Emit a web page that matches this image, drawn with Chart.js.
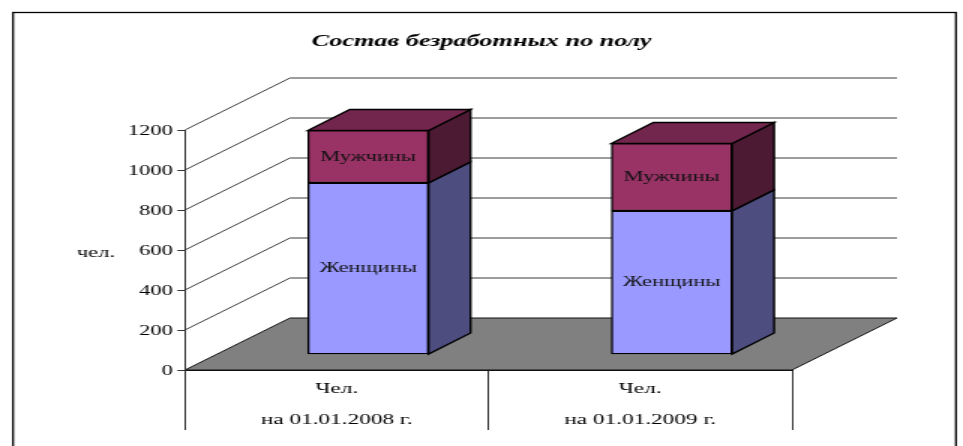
<!DOCTYPE html>
<html lang="ru">
<head>
<meta charset="utf-8">
<title>Состав безработных по полу</title>
<script src="https://cdn.jsdelivr.net/npm/chart.js@4/dist/chart.umd.js"></script>
<style>
  html, body { margin: 0; padding: 0; background: #fff; overflow: hidden; }
</style>
</head>
<body>
<!-- the reference is stretched 1.5x horizontally, text included, so the canvas is too -->
<canvas id="chart" width="642" height="446" style="width:963px;height:446px"></canvas>
<script>
const categories = [['Чел.', 'на 01.01.2008 г.'], ['Чел.', 'на 01.01.2009 г.']];
const women = [858, 718];
const men = [262, 337];
const seriesNames = ['Женщины', 'Мужчины'];
const frontColors = ['#9999FF', '#993366'];
const sideColors = ['#4D4D80', '#4D1A33'];
const topColor = '#73264D';
const yMax = 1200;
const yStep = 200;

const FONT = '"Liberation Serif", "Times New Roman", serif';
const WALL = { dx: 70, dy: 52 };     // depth of the walls and floor
const BAR_SHIFT = { dx: 21, dy: 15.5 }; // bars stand this far back from the front edge
const BAR_DEPTH = { dx: 28, dy: 21 };

function poly(ctx, pts, fill, stroke, lineWidth) {
  ctx.beginPath();
  pts.forEach((p, i) => (i ? ctx.lineTo(p[0], p[1]) : ctx.moveTo(p[0], p[1])));
  ctx.closePath();
  if (fill) { ctx.fillStyle = fill; ctx.fill(); }
  if (stroke) { ctx.strokeStyle = stroke; ctx.lineWidth = lineWidth || 1; ctx.stroke(); }
}

const depthPlugin = {
  id: 'depth',
  afterLayout(chart) {
    // title is centred on the whole picture, not on what the right padding leaves
    chart.titleBlock.left = 0;
    chart.titleBlock.right = chart.width;
  },
  beforeDraw(chart) {
    const { ctx, chartArea: a, scales: { y } } = chart;
    ctx.save();
    // outer frame, open at the bottom
    ctx.strokeStyle = '#000';
    ctx.lineWidth = 1.3;
    ctx.strokeRect(8.7, 12.5, 628.6, 460);

    // walls
    ctx.strokeStyle = '#3a3a3a';
    ctx.lineWidth = 1;
    y.ticks.forEach(t => {
      if (t.value === 0) return;
      const py = y.getPixelForValue(t.value);
      ctx.beginPath();
      ctx.moveTo(a.left, py);
      ctx.lineTo(a.left + WALL.dx, py - WALL.dy);
      ctx.lineTo(a.right + WALL.dx, py - WALL.dy);
      ctx.stroke();
    });

    // floor
    const y0 = y.getPixelForValue(0);
    poly(ctx, [
      [a.left, y0], [a.right, y0],
      [a.right + WALL.dx, y0 - WALL.dy], [a.left + WALL.dx, y0 - WALL.dy]
    ], '#808080', '#111', 1);
    ctx.restore();
  },
  beforeDatasetsDraw(chart) {
    const { ctx } = chart;
    ctx.save();
    ctx.translate(BAR_SHIFT.dx, -BAR_SHIFT.dy);
    const last = chart.data.datasets.length - 1;
    chart.data.datasets.forEach((ds, di) => {
      chart.getDatasetMeta(di).data.forEach(bar => {
        const r = bar.x + bar.width / 2;
        const l = bar.x - bar.width / 2;
        poly(ctx, [
          [r, bar.y], [r + BAR_DEPTH.dx, bar.y - BAR_DEPTH.dy],
          [r + BAR_DEPTH.dx, bar.base - BAR_DEPTH.dy], [r, bar.base]
        ], sideColors[di], '#000', 1.4);
        if (di === last) {
          poly(ctx, [
            [l, bar.y], [l + BAR_DEPTH.dx, bar.y - BAR_DEPTH.dy],
            [r + BAR_DEPTH.dx, bar.y - BAR_DEPTH.dy], [r, bar.y]
          ], topColor, '#000', 1.4);
        }
      });
    });
  },
  afterDatasetsDraw(chart) {
    const { ctx } = chart;
    // series names in the middle of each bar segment, still shifted
    ctx.fillStyle = '#111';
    ctx.font = '15px ' + FONT;
    ctx.textAlign = 'center';
    ctx.textBaseline = 'middle';
    chart.data.datasets.forEach((ds, di) => {
      chart.getDatasetMeta(di).data.forEach(bar => {
        ctx.fillText(ds.label, bar.x, (bar.y + bar.base) / 2);
      });
    });
    ctx.restore();
  },
  afterDraw(chart) {
    const { ctx, scales: { y } } = chart;
    // horizontal axis title, chart.js would rotate it
    ctx.save();
    ctx.fillStyle = '#000';
    ctx.font = '15px ' + FONT;
    ctx.textAlign = 'center';
    ctx.textBaseline = 'middle';
    ctx.fillText('чел.', 64, (y.top + y.bottom) / 2 + 3);
    ctx.restore();
  }
};

new Chart(document.getElementById('chart'), {
  type: 'bar',
  data: {
    labels: categories,
    datasets: [
      { label: seriesNames[0], data: women, backgroundColor: frontColors[0], borderColor: '#000', borderWidth: 1.4, borderSkipped: false, barThickness: 80.5, clip: false },
      { label: seriesNames[1], data: men, backgroundColor: frontColors[1], borderColor: '#000', borderWidth: 1.4, borderSkipped: false, barThickness: 80.5, clip: false }
    ]
  },
  options: {
    responsive: false,
    devicePixelRatio: 1,
    animation: false,
    layout: { padding: { left: 0, right: 114, top: 0, bottom: 0 } },
    plugins: {
      legend: { display: false },
      tooltip: { enabled: false },
      title: {
        display: true,
        text: 'Состав безработных по полу',
        color: '#000',
        font: { family: FONT, size: 17.5, style: 'italic', weight: 'bold' },
        padding: { top: 30.5, bottom: 78.5 }
      }
    },
    scales: {
      x: {
        stacked: true,
        afterFit(scale) { scale.height = 76; },
        grid: { drawOnChartArea: false, drawTicks: true, tickLength: 60, tickColor: '#333', lineWidth: 1 },
        border: { display: true, color: '#111' },
        ticks: {
          color: '#000',
          maxRotation: 0,
          autoSkip: false,
          padding: -57,
          font: { family: FONT, size: 15.5, lineHeight: 2.03 }
        }
      },
      y: {
        stacked: true,
        min: 0,
        max: yMax,
        afterFit(scale) { scale.width = 123.3; },
        grid: { drawOnChartArea: false, drawTicks: true, tickLength: 5, tickColor: '#333' },
        border: { display: true, color: '#333' },
        ticks: {
          stepSize: yStep,
          color: '#000',
          padding: 3,
          labelOffset: 1.5,
          font: { family: FONT, size: 15 },
          callback: v => String(v)
        }
      }
    }
  },
  plugins: [depthPlugin]
});
</script>
</body>
</html>
